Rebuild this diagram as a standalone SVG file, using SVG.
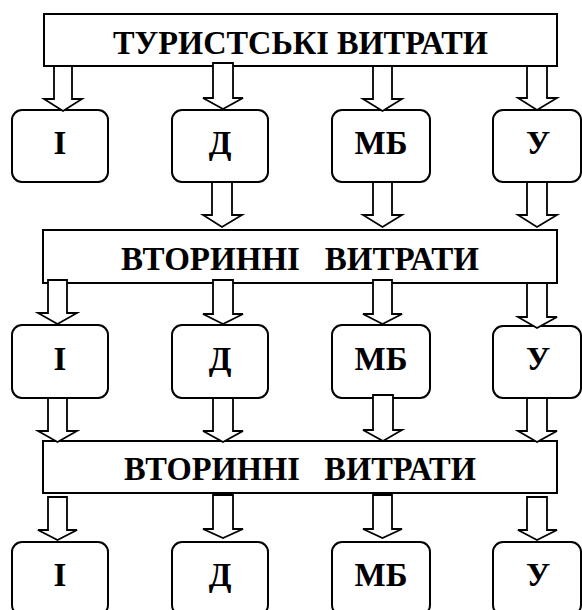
<svg xmlns="http://www.w3.org/2000/svg" width="582" height="610" viewBox="0 0 582 610">
  <style>
    .band { fill: #fff; stroke: #000; stroke-width: 2; }
    .node { fill: #fff; stroke: #000; stroke-width: 2; }
    .arrow { fill: #fff; stroke: #000; stroke-width: 1.8; stroke-linejoin: miter; }
    .title { font-family: "Liberation Serif", "Times New Roman", serif; font-weight: bold; font-size: 33px; text-anchor: middle; white-space: pre; }
    .label { font-family: "Liberation Serif", "Times New Roman", serif; font-weight: bold; font-size: 33px; text-anchor: middle; }
  </style>
  <rect width="582" height="610" fill="#fff"/>

  <!-- wide bands -->
  <g id="band-tourist">
    <rect class="band" x="44" y="14" width="513" height="52"/>
    <text class="title" x="300.5" y="54" textLength="375" lengthAdjust="spacingAndGlyphs">ТУРИСТСЬКІ ВИТРАТИ</text>
  </g>
  <g id="band-secondary-1">
    <rect class="band" x="43" y="230" width="514" height="53"/>
    <text class="title" x="300" y="270" textLength="358" lengthAdjust="spacingAndGlyphs" xml:space="preserve">ВТОРИННІ   ВИТРАТИ</text>
  </g>
  <g id="band-secondary-2">
    <rect class="band" x="43" y="441" width="514" height="52"/>
    <text class="title" x="300" y="480" textLength="352" lengthAdjust="spacingAndGlyphs" xml:space="preserve">ВТОРИННІ   ВИТРАТИ</text>
  </g>

  <!-- row 1 -->
  <g id="r1-i"><rect class="node" x="12" y="110" width="96" height="72" rx="10"/><text class="label" x="60" y="154">І</text></g>
  <g id="r1-d"><rect class="node" x="172" y="110" width="96" height="72" rx="10"/><text class="label" x="220" y="154">Д</text></g>
  <g id="r1-mb"><rect class="node" x="332" y="110" width="98" height="72" rx="10"/><text class="label" x="381" y="154">МБ</text></g>
  <g id="r1-u"><rect class="node" x="493" y="110" width="88" height="72" rx="10"/><text class="label" x="538" y="154">У</text></g>

  <!-- row 2 -->
  <g id="r2-i"><rect class="node" x="12" y="325" width="96" height="73" rx="10"/><text class="label" x="60" y="370">І</text></g>
  <g id="r2-d"><rect class="node" x="172" y="325" width="96" height="73" rx="10"/><text class="label" x="220" y="370">Д</text></g>
  <g id="r2-mb"><rect class="node" x="332" y="325" width="98" height="73" rx="10"/><text class="label" x="381" y="370">МБ</text></g>
  <g id="r2-u"><rect class="node" x="493" y="326" width="88" height="72" rx="10"/><text class="label" x="538" y="370">У</text></g>

  <!-- row 3 (runs past the lower edge) -->
  <g id="r3-i"><rect class="node" x="12" y="542" width="96" height="73" rx="10"/><text class="label" x="60" y="586">І</text></g>
  <g id="r3-d"><rect class="node" x="172" y="542" width="96" height="73" rx="10"/><text class="label" x="220" y="586">Д</text></g>
  <g id="r3-mb"><rect class="node" x="332" y="542" width="98" height="73" rx="10"/><text class="label" x="381" y="586">МБ</text></g>
  <g id="r3-u"><rect class="node" x="493" y="542" width="88" height="73" rx="10"/><text class="label" x="538" y="586">У</text></g>

  <!-- block arrows: shaft 20 wide, head 39 wide -->
  <g id="connectors">
    <!-- tourist band to row 1 -->
    <polygon class="arrow" points="54,66 72,66 72,99 82,99 63,111 44,99 54,99"/>
    <polygon class="arrow" points="213,63 233,63 233,98 243,98 223,109 203,98 213,98"/>
    <polygon class="arrow" points="373,66 392,66 392,99 402,99 382.5,111 363,99 373,99"/>
    <polygon class="arrow" points="527,66 547,66 547,98 557,98 537,110 518,98 527,98"/>

    <!-- row 1 to first secondary band -->
    <polygon class="arrow" points="212,182 232,182 232,215 242,215 222,227 203,215 212,215"/>
    <polygon class="arrow" points="373,182 392,182 392,215 402,215 382.5,227 363,215 373,215"/>
    <polygon class="arrow" points="527,182 547,182 547,215 557,215 537,227 518,215 527,215"/>

    <!-- first secondary band to row 2 -->
    <polygon class="arrow" points="48,280 67,280 67,313 77,313 57.5,324 38,313 48,313"/>
    <polygon class="arrow" points="213,280 233,280 233,314 243,314 223,324 203,314 213,314"/>
    <polygon class="arrow" points="373,280 392,280 392,314 402,314 382.5,324 363,314 373,314"/>
    <polygon class="arrow" points="527,283 547,283 547,317 557,317 537,328 518,317 527,317"/>

    <!-- row 2 to second secondary band -->
    <polygon class="arrow" points="48,398 67,398 67,431 77,431 57.5,442 38,431 48,431"/>
    <polygon class="arrow" points="213,398 233,398 233,431 243,431 223,442 203,431 213,431"/>
    <polygon class="arrow" points="373,395 393,395 393,430 402,430 383,441 363,430 373,430"/>
    <polygon class="arrow" points="527,398 547,398 547,431 557,431 537,442 518,431 527,431"/>

    <!-- second secondary band to row 3 -->
    <polygon class="arrow" points="48,497 67,497 67,530 77,530 57.5,540 38,530 48,530"/>
    <polygon class="arrow" points="213,495 233,495 233,529 243,529 223,538 203,529 213,529"/>
    <polygon class="arrow" points="373,495 392,495 392,529 402,529 382.5,538 363,529 373,529"/>
    <polygon class="arrow" points="527,497 547,497 547,530 557,530 537,540 518,530 527,530"/>
  </g>
</svg>
